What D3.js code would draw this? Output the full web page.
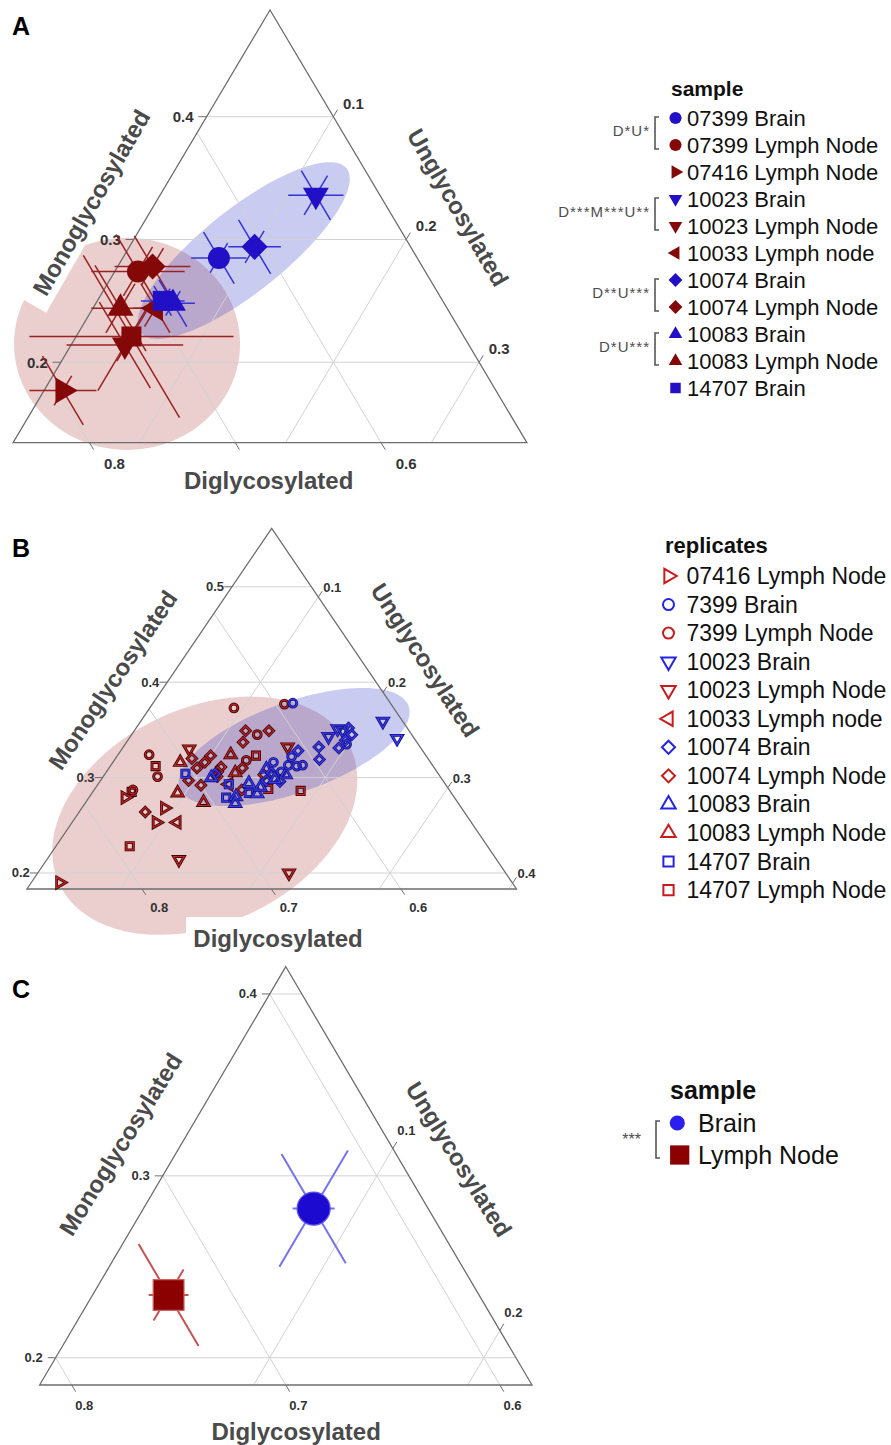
<!DOCTYPE html>
<html>
<head>
<meta charset="utf-8">
<script src="https://cdn.jsdelivr.net/npm/d3@7"></script>
<style>
  body { margin: 0; background: #fff; }
  svg { display: block; }
</style>
</head>
<body>
<div id="canvas"></div>
<script>
"use strict"

/* Three ternary plots of glycoform fractions:
   Monoglycosylated (top), Diglycosylated (bottom left), Unglycosylated (bottom right).
   A = sample means with error bars, B = replicates, C = tissue means. */

/* ---------- Panel A data: one mean per sample ---------- */
const aSample = ["07399 Brain", "07399 Lymph Node", "07416 Lymph Node", "10023 Brain",
  "10023 Lymph Node", "10033 Lymph node", "10074 Brain", "10074 Lymph Node",
  "10083 Brain", "10083 Lymph Node", "14707 Brain", "14707 Lymph Node"];
const aShape = ["circle", "circle", "right", "down", "down", "left", "diamond", "diamond",
  "up", "up", "square", "square"];
const aTissue = ["Brain", "Lymph Node", "Lymph Node", "Brain", "Lymph Node", "Lymph Node",
  "Brain", "Lymph Node", "Brain", "Lymph Node", "Brain", "Lymph Node"];
const aMono  = [0.285, 0.274, 0.177, 0.336, 0.214, 0.244, 0.294, 0.278, 0.248, 0.244, 0.250, 0.221];
const aDigly = [0.636, 0.697, 0.797, 0.544, 0.736, 0.700, 0.607, 0.685, 0.686, 0.724, 0.692, 0.728];
const aUngly = [0.079, 0.029, 0.026, 0.120, 0.050, 0.056, 0.099, 0.037, 0.066, 0.032, 0.058, 0.051];
const aMonoErr  = [0.012, 0.020, 0.012, 0.016, 0.037, 0.015, 0.013, 0.015, 0.010, 0.020, 0.010, 0.020];
const aDiglyErr = [0.019, 0.032, 0.023, 0.019, 0.040, 0.015, 0.018, 0.026, 0.015, 0.020, 0.015, 0.070];
const aUnglyErr = [0.021, 0.030, 0.028, 0.020, 0.035, 0.020, 0.022, 0.025, 0.019, 0.035, 0.012, 0.066];
const aLegendCount = 11;   // the key of panel A lists only the first 11 samples
const aBrackets = [["D*U*", 0, 1], ["D***M***U**", 3, 4], ["D**U***", 6, 7], ["D*U***", 8, 9]];
// shaded regions: tissue, centre (mono, digly, ungly), semi-axes, angle (deg)
const aRegions = [["Lymph Node", 0.215, 0.734, 0.051, 0.0775, 0.0748, 0],
                  ["Brain", 0.291, 0.616, 0.093, 0.0913, 0.029, 39.6]];

/* ---------- Panel B data: replicates ---------- */
const bLegend = ["07416 Lymph Node", "7399 Brain", "7399 Lymph Node", "10023 Brain",
  "10023 Lymph Node", "10033 Lymph node", "10074 Brain", "10074 Lymph Node",
  "10083 Brain", "10083 Lymph Node", "14707 Brain", "14707 Lymph Node"];
const bShape = ["right", "circle", "circle", "down", "down", "left", "diamond", "diamond",
  "up", "up", "square", "square"];
const bTissue = ["Lymph Node", "Brain", "Lymph Node", "Brain", "Lymph Node", "Lymph Node",
  "Brain", "Lymph Node", "Brain", "Lymph Node", "Brain", "Lymph Node"];
// [replicate group, mono, digly, ungly]
const bPoints = [
  [2, 0.373, 0.534, 0.093], [2, 0.377, 0.493, 0.130], [7, 0.349, 0.537, 0.114],
  [2, 0.345, 0.530, 0.125], [7, 0.349, 0.519, 0.132], [7, 0.337, 0.545, 0.118],
  [2, 0.324, 0.624, 0.052], [11, 0.312, 0.625, 0.063], [2, 0.301, 0.629, 0.070],
  [4, 0.330, 0.590, 0.080], [7, 0.320, 0.593, 0.087], [9, 0.316, 0.604, 0.080],
  [7, 0.323, 0.577, 0.100], [7, 0.316, 0.585, 0.099], [9, 0.324, 0.561, 0.115],
  [2, 0.318, 0.552, 0.130], [11, 0.323, 0.542, 0.135], [7, 0.311, 0.575, 0.114],
  [7, 0.306, 0.580, 0.114], [9, 0.305, 0.567, 0.128], [7, 0.310, 0.559, 0.131],
  [7, 0.297, 0.607, 0.096], [7, 0.292, 0.600, 0.108], [5, 0.293, 0.578, 0.129],
  [4, 0.332, 0.513, 0.155], [7, 0.303, 0.546, 0.151], [11, 0.288, 0.550, 0.162],
  [11, 0.286, 0.526, 0.188], [11, 0.285, 0.657, 0.058], [2, 0.287, 0.655, 0.058],
  [0, 0.279, 0.665, 0.056], [9, 0.284, 0.622, 0.094], [9, 0.274, 0.607, 0.119],
  [7, 0.264, 0.657, 0.079], [0, 0.268, 0.640, 0.092], [0, 0.253, 0.654, 0.093],
  [5, 0.253, 0.638, 0.109], [7, 0.287, 0.571, 0.142], [7, 0.310, 0.594, 0.096],
  [7, 0.301, 0.583, 0.116], [11, 0.228, 0.687, 0.085], [4, 0.214, 0.656, 0.130],
  [4, 0.200, 0.578, 0.222], [0, 0.190, 0.760, 0.050],
  [1, 0.378, 0.486, 0.136], [10, 0.304, 0.606, 0.090], [6, 0.304, 0.583, 0.113],
  [8, 0.300, 0.588, 0.112], [10, 0.293, 0.578, 0.129], [10, 0.279, 0.587, 0.134],
  [8, 0.280, 0.579, 0.141], [8, 0.273, 0.583, 0.144], [8, 0.294, 0.562, 0.144],
  [10, 0.284, 0.567, 0.149], [8, 0.283, 0.561, 0.156], [8, 0.290, 0.555, 0.155],
  [8, 0.309, 0.541, 0.150], [1, 0.316, 0.532, 0.152], [6, 0.305, 0.539, 0.156],
  [1, 0.306, 0.531, 0.163], [6, 0.296, 0.537, 0.167], [8, 0.303, 0.529, 0.168],
  [1, 0.313, 0.522, 0.165], [1, 0.322, 0.515, 0.163], [1, 0.312, 0.516, 0.172],
  [1, 0.313, 0.511, 0.176], [6, 0.328, 0.507, 0.165], [6, 0.332, 0.489, 0.179],
  [6, 0.319, 0.495, 0.186], [3, 0.343, 0.476, 0.181], [3, 0.351, 0.465, 0.184],
  [3, 0.349, 0.462, 0.189], [6, 0.352, 0.456, 0.192], [6, 0.345, 0.457, 0.198],
  [6, 0.339, 0.465, 0.196], [6, 0.331, 0.474, 0.195], [1, 0.335, 0.466, 0.199],
  [3, 0.359, 0.426, 0.215], [3, 0.341, 0.424, 0.235], [6, 0.297, 0.547, 0.156],
  [8, 0.298, 0.540, 0.162]
];
const bRegions = [["Lymph Node", 0.260, 0.613, 0.127, 0.1295, 0.0938, 37.1],
                  ["Brain", 0.332, 0.508, 0.160, 0.0960, 0.0401, 24.1]];

/* ---------- Panel C data: tissue means ---------- */
const cSample = ["Brain", "Lymph Node"];
const cShape = ["circle", "square"];
const cMono  = [0.282, 0.2345];
const cDigly = [0.6385, 0.730];
const cUngly = [0.0795, 0.0355];
const cMonoErr  = [0.032, 0.014];
const cDiglyErr = [0.0098, 0.0093];
const cUnglyErr = [0.030, 0.028];
const cBracket = "***";

/* ---------- Axis ticks ---------- */
const aMonoTicks = [0.2, 0.3, 0.4];
const aDiglyTicks = [0.8, 0.7, 0.6];
const aDiglyLabels = ["0.8", "", "0.6"];
const aUnglyTicks = [0.1, 0.2, 0.3];
const bMonoTicks = [0.2, 0.3, 0.4, 0.5];
const bDiglyTicks = [0.7, 0.6, 0.5];
const bDiglyLabels = ["0.8", "0.7", "0.6"];   // as printed in the source figure
const bUnglyTicks = [0.1, 0.2, 0.3, 0.4];
const cMonoTicks = [0.2, 0.3, 0.4];
const cDiglyTicks = [0.8, 0.7, 0.6];
const cDiglyLabels = ["0.8", "0.7", "0.6"];
const cUnglyTicks = [0.1, 0.2];

/* ---------- Drawing setup ---------- */
const FONT = "'Liberation Sans', Arial, Helvetica, sans-serif";
const SQ3 = Math.sqrt(3);
const fmt = d3.format(".1f");

let svg = d3.select("#canvas").append("svg")
  .attr("width", 891)
  .attr("height", 1445);
svg.append("rect").attr("width", 891).attr("height", 1445).attr("fill", "#ffffff");

let meanColor = { "Brain": "#2210c6", "Lymph Node": "#840808" };
let errColor = { "Brain": "#3434d6", "Lymph Node": "#9a2222" };
let regionColor = { "Brain": "#3c46c8", "Lymph Node": "#a82a2a" };
let regionOpacity = { "Brain": 0.28, "Lymph Node": 0.23 };

// zoomed triangle of each panel (pixel corners + composition limits)
let layoutA = { x0: 13.1, x1: 526.9, yBase: 442.7, yApex: 10, tmin: 0.1345, lmin: 0.5, rmin: 0.0131, span: 0.3524 };
let layoutB = { x0: 26.9, x1: 516.5, yBase: 889, yApex: 528.3, tmin: 0.1832, lmin: 0.4107, rmin: 0.028, span: 0.3781 };
let layoutC = { x0: 39.6, x1: 532, yBase: 1385, yApex: 966.7, tmin: 0.185, lmin: 0.585, rmin: 0, span: 0.23 };

function makeProjection(lay) {
  let xs = d3.scaleLinear().domain([0, 1]).range([lay.x0, lay.x1]);
  let ys = d3.scaleLinear().domain([0, SQ3 / 2]).range([lay.yBase, lay.yApex]);
  return function (T, L, R) {
    let sum = T + L + R;
    let t = (T / sum - lay.tmin) / lay.span;
    let r = (R / sum - lay.rmin) / lay.span;
    return [xs(r + t / 2), ys(t * SQ3 / 2)];
  };
}

// endpoints of a constant-value grid line, as compositions
function gridEnds(lay, axis, v) {
  if (axis === "mono") return [[v, 1 - v - lay.rmin, lay.rmin], [v, lay.lmin, 1 - v - lay.lmin]];
  if (axis === "digly") return [[lay.tmin, v, 1 - v - lay.tmin], [1 - v - lay.rmin, v, lay.rmin]];
  return [[lay.tmin, 1 - v - lay.tmin, v], [1 - v - lay.lmin, lay.lmin, v]];
}
function tickEnd(lay, axis, v, d) {
  if (axis === "mono") return [v, 1 - v - lay.rmin + d, lay.rmin - d];
  if (axis === "digly") return [lay.tmin - d, v, 1 - v - lay.tmin + d];
  return [1 - v - lay.lmin + d, lay.lmin - d, v];
}

function ellipsePath(proj, lay, c) {
  let X0 = (c[3] - lay.rmin) + (c[1] - lay.tmin) / 2;
  let Y0 = (c[1] - lay.tmin) * SQ3 / 2;
  let phi = c[6] * Math.PI / 180;
  let pts = d3.range(0, 360, 3).map(function (deg) {
    let th = deg * Math.PI / 180;
    let dx = c[4] * Math.cos(th) * Math.cos(phi) - c[5] * Math.sin(th) * Math.sin(phi);
    let dy = c[4] * Math.cos(th) * Math.sin(phi) + c[5] * Math.sin(th) * Math.cos(phi);
    let T = lay.tmin + (Y0 + dy) * 2 / SQ3;
    let R = lay.rmin + (X0 + dx) - (T - lay.tmin) / 2;
    return proj(T, 1 - T - R, R);
  });
  return d3.line()(pts) + "Z";
}

function errorSegments(T, L, R, eT, eL, eR) {
  return [
    [[T, L + eL, R - eL], [T, L - eL, R + eL]],   // digly error (horizontal)
    [[T + eT, L - eT, R], [T - eT, L + eT, R]],   // mono error (parallel to left edge)
    [[T - eR, L, R + eR], [T + eR, L, R - eR]]    // ungly error (parallel to right edge)
  ];
}

const symbolType = { circle: d3.symbolCircle, square: d3.symbolSquare, diamond: d3.symbolSquare,
  up: d3.symbolTriangle, down: d3.symbolTriangle, left: d3.symbolTriangle, right: d3.symbolTriangle };
const symbolTurn = { circle: 0, square: 0, diamond: 45, up: 0, down: 180, left: -90, right: 90 };
function sizeOf(shape, sizes) {
  if (shape === "circle" || shape === "square" || shape === "diamond") return sizes[shape];
  return sizes.tri;
}
function symbolAt(g, shape, size, x, y) {
  return g.append("path")
    .attr("d", d3.symbol().type(symbolType[shape]).size(size)())
    .attr("transform", "translate(" + x + "," + y + ") rotate(" + symbolTurn[shape] + ")");
}

function line2(g, p, q) {
  return g.append("line").attr("x1", p[0]).attr("y1", p[1]).attr("x2", q[0]).attr("y2", q[1]);
}

/* Frame: grid, triangle, ticks and tick labels */
function drawFrame(g, proj, lay, ax) {
  let grid = g.append("g").attr("stroke", "#d2d2d2").attr("stroke-width", 1);
  ["mono", "digly", "ungly"].forEach(function (axis) {
    ax[axis].forEach(function (v) {
      let e = gridEnds(lay, axis, v);
      line2(grid, proj(...e[0]), proj(...e[1]));
    });
  });

  let corners = [
    proj(lay.tmin + lay.span, lay.lmin, lay.rmin),
    proj(lay.tmin, lay.lmin + lay.span, lay.rmin),
    proj(lay.tmin, lay.lmin, lay.rmin + lay.span)
  ];
  g.append("path")
    .attr("d", d3.line()(corners) + "Z")
    .attr("fill", "none")
    .attr("stroke", "#6e6e6e")
    .attr("stroke-width", 1.3);

  let d = lay.span * 0.016;
  let ticks = g.append("g").attr("stroke", "#6e6e6e").attr("stroke-width", 1);
  let labels = g.append("g")
    .style("font-family", FONT)
    .style("font-weight", "bold")
    .style("font-size", ax.font + "px")
    .attr("fill", "#333");

  ax.mono.forEach(function (v) {
    let p = proj(...gridEnds(lay, "mono", v)[0]);
    line2(ticks, p, proj(...tickEnd(lay, "mono", v, d)));
    labels.append("text")
      .attr("x", p[0] + ax.monoDx).attr("y", p[1])
      .attr("text-anchor", "end").attr("dominant-baseline", "central")
      .text(fmt(v));
  });
  ax.digly.forEach(function (v, i) {
    let p = proj(...gridEnds(lay, "digly", v)[0]);
    line2(ticks, p, proj(...tickEnd(lay, "digly", v, d)));
    if (ax.diglyLabels[i] !== "") {
      labels.append("text")
        .attr("x", p[0] + ax.diglyOff[0]).attr("y", p[1] + ax.diglyOff[1])
        .attr("text-anchor", "middle").attr("dominant-baseline", "central")
        .text(ax.diglyLabels[i]);
    }
  });
  ax.ungly.forEach(function (v) {
    let p = proj(...gridEnds(lay, "ungly", v)[1]);
    line2(ticks, p, proj(...tickEnd(lay, "ungly", v, d)));
    labels.append("text")
      .attr("x", p[0] + ax.unglyOff[0]).attr("y", p[1] + ax.unglyOff[1])
      .attr("text-anchor", "middle").attr("dominant-baseline", "central")
      .text(fmt(v));
  });
}

function axisTitle(g, txt, x, y, rot) {
  return g.append("text")
    .attr("transform", "translate(" + x + "," + y + ") rotate(" + rot + ")")
    .attr("text-anchor", "middle")
    .attr("dominant-baseline", "central")
    .style("font-family", FONT)
    .style("font-weight", "bold")
    .style("font-size", "24px")
    .attr("fill", "#4a4a4a")
    .text(txt);
}

function panelLetter(txt, y) {
  svg.append("text")
    .attr("x", 12).attr("y", y)
    .style("font-family", FONT).style("font-weight", "bold").style("font-size", "25px")
    .attr("fill", "#000")
    .text(txt);
}

function bracket(g, x, y1, y2) {
  g.append("path")
    .attr("d", "M" + (x + 4) + "," + y1 + "H" + x + "V" + y2 + "H" + (x + 4))
    .attr("fill", "none")
    .attr("stroke", "#555")
    .attr("stroke-width", 1.6);
}

/* ================= Panel A ================= */
let projA = makeProjection(layoutA);
let gA = svg.append("g");

aRegions.forEach(function (c) {
  gA.append("path")
    .attr("d", ellipsePath(projA, layoutA, c))
    .attr("fill", regionColor[c[0]])
    .attr("fill-opacity", regionOpacity[c[0]]);
});
// white box behind the left axis title cuts the shaded region
gA.append("rect")
  .attr("x", -118).attr("y", -16).attr("width", 236).attr("height", 32)
  .attr("fill", "#ffffff")
  .attr("transform", "translate(91.3,202.5) rotate(-60)");

drawFrame(gA, projA, layoutA, {
  mono: aMonoTicks, digly: aDiglyTicks, diglyLabels: aDiglyLabels, ungly: aUnglyTicks,
  font: 15, monoDx: -13, diglyOff: [25, 20.6], unglyOff: [20, -13.5]
});

let errA = gA.append("g").attr("stroke-width", 1.5);
aMono.forEach(function (T, i) {
  errorSegments(T, aDigly[i], aUngly[i], aMonoErr[i], aDiglyErr[i], aUnglyErr[i]).forEach(function (s) {
    line2(errA, projA(...s[0]), projA(...s[1])).attr("stroke", errColor[aTissue[i]]);
  });
});
let aSizes = { circle: 380, square: 400, diamond: 340, tri: 290 };
aMono.forEach(function (T, i) {
  let p = projA(T, aDigly[i], aUngly[i]);
  symbolAt(gA, aShape[i], sizeOf(aShape[i], aSizes), p[0], p[1])
    .attr("fill", meanColor[aTissue[i]]);
});

axisTitle(gA, "Monoglycosylated", 91.3, 202.5, -60);
axisTitle(gA, "Unglycosylated", 458, 207.5, 60);
axisTitle(gA, "Diglycosylated", 268.6, 480, 0);
panelLetter("A", 35);

// key A
let keyA = svg.append("g").style("font-family", FONT);
keyA.append("text").attr("x", 671).attr("y", 88).attr("dominant-baseline", "central")
  .style("font-weight", "bold").style("font-size", "21px").attr("fill", "#111").text("sample");
let aRowY = function (i) { return 118 + i * 27; };
let aKeySizes = { circle: 115, square: 110, diamond: 95, tri: 80 };
for (let i = 0; i < aLegendCount; i++) {
  symbolAt(keyA, aShape[i], sizeOf(aShape[i], aKeySizes), 675.5, aRowY(i))
    .attr("fill", meanColor[aTissue[i]]);
  keyA.append("text").attr("x", 687).attr("y", aRowY(i)).attr("dominant-baseline", "central")
    .style("font-size", "22px").attr("fill", "#111").text(aSample[i]);
}
aBrackets.forEach(function (b) {
  let y1 = aRowY(b[1]) - 1, y2 = aRowY(b[2]) + 4;
  bracket(keyA, 655, y1, y2);
  keyA.append("text").attr("x", 650).attr("y", (y1 + y2) / 2 - 3)
    .attr("text-anchor", "end").attr("dominant-baseline", "central")
    .style("font-size", "15px").style("letter-spacing", "1px").attr("fill", "#4d4d4d")
    .text(b[0]);
});

/* ================= Panel B ================= */
let projB = makeProjection(layoutB);
let gB = svg.append("g");

bRegions.forEach(function (c) {
  gB.append("path")
    .attr("d", ellipsePath(projB, layoutB, c))
    .attr("fill", regionColor[c[0]])
    .attr("fill-opacity", regionOpacity[c[0]]);
});
// white box behind the bottom axis title
gB.append("rect").attr("x", 186).attr("y", 917).attr("width", 188).attr("height", 42).attr("fill", "#ffffff");

drawFrame(gB, projB, layoutB, {
  mono: bMonoTicks, digly: bDiglyTicks, diglyLabels: bDiglyLabels, ungly: bUnglyTicks,
  font: 13, monoDx: -8, diglyOff: [17.3, 18.3], unglyOff: [14, -9.5]
});

let bOuter = { "Brain": "#14147a", "Lymph Node": "#3a0505" };
let bInner = { "Brain": "#3a3aff", "Lymph Node": "#cc2424" };
let bSizes = { circle: 48, square: 52, diamond: 44, tri: 50 };
bPoints.forEach(function (d) {
  let p = projB(d[1], d[2], d[3]);
  let shape = bShape[d[0]], tissue = bTissue[d[0]];
  symbolAt(gB, shape, sizeOf(shape, bSizes), p[0], p[1])
    .attr("fill", "none").attr("stroke", bOuter[tissue]).attr("stroke-width", 2.9);
  symbolAt(gB, shape, sizeOf(shape, bSizes), p[0], p[1])
    .attr("fill", "none").attr("stroke", bInner[tissue]).attr("stroke-width", 1.2);
});

axisTitle(gB, "Monoglycosylated", 112.8, 680, -56);
axisTitle(gB, "Unglycosylated", 425.3, 660, 57);
axisTitle(gB, "Diglycosylated", 278, 938, 0);
panelLetter("B", 557);

// key B
let keyB = svg.append("g").style("font-family", FONT);
keyB.append("text").attr("x", 665).attr("y", 545).attr("dominant-baseline", "central")
  .style("font-weight", "bold").style("font-size", "22px").attr("fill", "#111").text("replicates");
let bKeyColor = { "Brain": "#2424e6", "Lymph Node": "#cc1a1a" };
let bKeySizes = { circle: 95, square: 105, diamond: 85, tri: 90 };
bLegend.forEach(function (name, i) {
  let y = 576 + i * 28.55;
  symbolAt(keyB, bShape[i], sizeOf(bShape[i], bKeySizes), 668.5, y)
    .attr("fill", "none").attr("stroke", bKeyColor[bTissue[i]]).attr("stroke-width", 2);
  keyB.append("text").attr("x", 686.5).attr("y", y).attr("dominant-baseline", "central")
    .style("font-size", "23px").attr("fill", "#111").text(name);
});

/* ================= Panel C ================= */
let projC = makeProjection(layoutC);
let gC = svg.append("g");

drawFrame(gC, projC, layoutC, {
  mono: cMonoTicks, digly: cDiglyTicks, diglyLabels: cDiglyLabels, ungly: cUnglyTicks,
  font: 13, monoDx: -13, diglyOff: [12.6, 20], unglyOff: [13.5, -17.8]
});

let cErrColor = { "Brain": "#7472ee", "Lymph Node": "#c85252" };
let errC = gC.append("g").attr("stroke-width", 2);
cMono.forEach(function (T, i) {
  errorSegments(T, cDigly[i], cUngly[i], cMonoErr[i], cDiglyErr[i], cUnglyErr[i]).forEach(function (s) {
    line2(errC, projC(...s[0]), projC(...s[1])).attr("stroke", cErrColor[cSample[i]]);
  });
});
let cSizes = { circle: 860, square: 950, diamond: 800, tri: 800 };
let cStroke = { "Brain": "#5c52f0", "Lymph Node": "#cf6060" };
cMono.forEach(function (T, i) {
  let p = projC(T, cDigly[i], cUngly[i]);
  symbolAt(gC, cShape[i], sizeOf(cShape[i], cSizes), p[0], p[1])
    .attr("fill", i === 0 ? "#1c0ad0" : "#8b0000")
    .attr("stroke", cStroke[cSample[i]])
    .attr("stroke-width", 1.2);
});

axisTitle(gC, "Monoglycosylated", 120.5, 1144.2, -58);
axisTitle(gC, "Unglycosylated", 458.9, 1159.2, 58);
axisTitle(gC, "Diglycosylated", 296.1, 1431.7, 0);
panelLetter("C", 998);

// key C
let keyC = svg.append("g").style("font-family", FONT);
keyC.append("text").attr("x", 670).attr("y", 1090).attr("dominant-baseline", "central")
  .style("font-weight", "bold").style("font-size", "25px").attr("fill", "#111").text("sample");
let cKeyColor = ["#2a1ef0", "#8b0000"];
let cKeySizes = { circle: 180, square: 370, diamond: 300, tri: 300 };
let cKeyX = [677.3, 679.7];
let cRowY = [1123, 1155];
cSample.forEach(function (name, i) {
  symbolAt(keyC, cShape[i], sizeOf(cShape[i], cKeySizes), cKeyX[i], cRowY[i]).attr("fill", cKeyColor[i]);
  keyC.append("text").attr("x", 698).attr("y", cRowY[i]).attr("dominant-baseline", "central")
    .style("font-size", "25px").attr("fill", "#111").text(name);
});
bracket(keyC, 656, 1121, 1158);
keyC.append("text").attr("x", 631.7).attr("y", 1139).attr("text-anchor", "middle")
  .attr("dominant-baseline", "central").style("font-size", "16px").attr("fill", "#4d4d4d")
  .text(cBracket);
</script>
</body>
</html>
